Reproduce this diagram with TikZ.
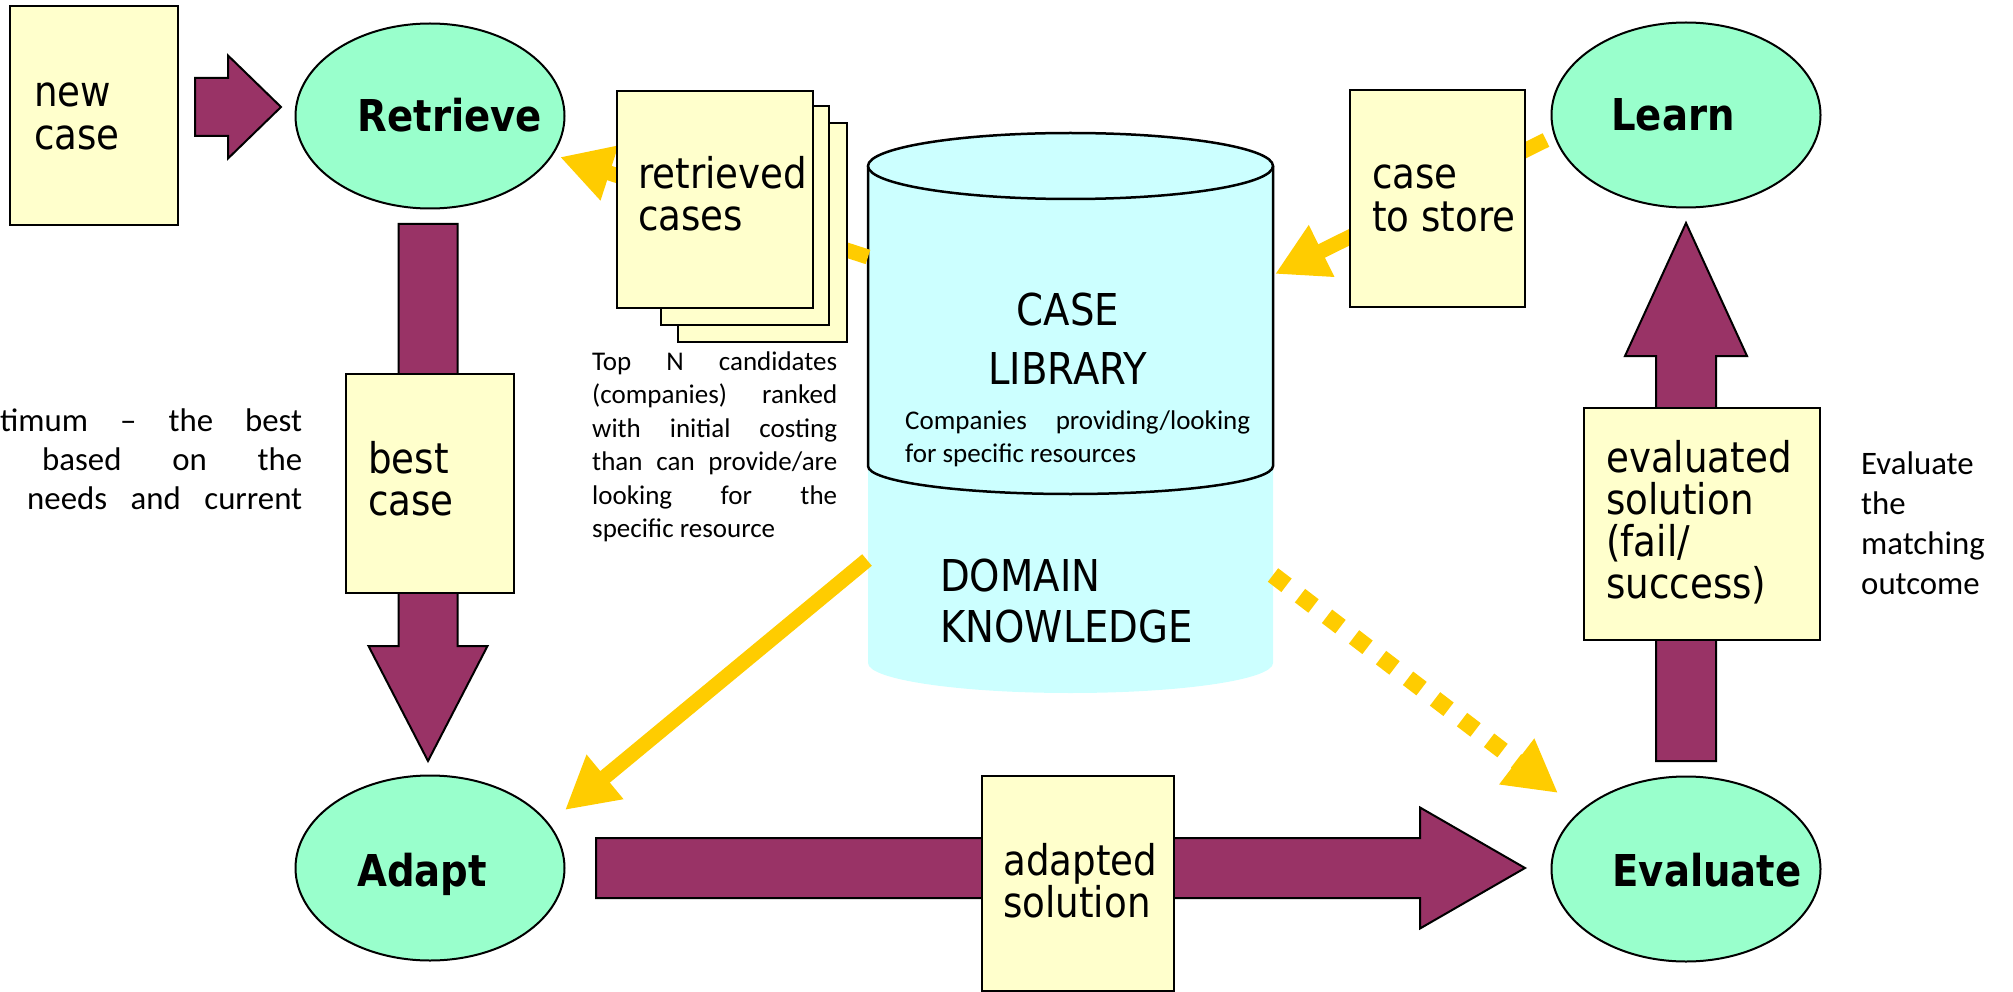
\documentclass[tikz,border=0pt]{standalone}
\usepackage{fontspec}
\setmainfont{DejaVu Sans}[FakeStretch=0.88]
\newfontfamily\notefont{Carlito}
\usetikzlibrary{calc,arrows.meta,shapes.geometric}

\definecolor{paperyellow}{HTML}{FFFFCC}
\definecolor{stagegreen}{HTML}{99FFCC}
\definecolor{libcyan}{HTML}{CCFFFF}
\definecolor{flowmaroon}{HTML}{993366}
\definecolor{linkgold}{HTML}{FFCC00}

% tail, tip, shaft half width, head half width, head length
\newcommand{\blockarrow}[5]{%
  \coordinate (bah) at ($(#2)!#5!(#1)$);
  \draw[blockarr] ($(#1)!#3!90:(#2)$) -- ($(bah)!#3!-90:(#1)$) -- ($(bah)!#4!-90:(#1)$)
    -- (#2) -- ($(bah)!#4!90:(#1)$) -- ($(bah)!#3!90:(#1)$) -- ($(#1)!#3!-90:(#2)$) -- cycle;
}

\tikzset{
  paper/.style={draw, line width=2.5pt, fill=paperyellow, anchor=north west, outer sep=0pt, inner sep=0pt},
  papertext/.style={anchor=base west, inner sep=0pt, font=\fontsize{42.3}{42.3}\selectfont},
  stage/.style={ellipse, draw, line width=2pt, fill=stagegreen, minimum width=269pt, minimum height=185pt, inner sep=0pt},
  stagename/.style={anchor=base, inner sep=0pt, font=\fontsize{43.9}{44}\selectfont\bfseries},
  note/.style={anchor=base west, inner sep=0pt, font=\notefont\fontsize{27}{33.4}\selectfont},
  bignote/.style={anchor=base west, inner sep=0pt, font=\notefont\fontsize{32.8}{40}\selectfont},
  blockarr/.style={draw=black, line width=2pt, fill=flowmaroon, line join=miter},
  feed/.style={draw=linkgold, line width=15pt, -{Triangle[length=52pt, width=54pt]}},
  feedhint/.style={feed, line width=17pt, dash pattern=on 17pt off 17pt},
}

\begin{document}
\begin{tikzpicture}[x=1pt, y=-1pt]
  \useasboundingbox (0,0) rectangle (2013,992);

  % case library and domain knowledge
  \fill[libcyan] (868,466) -- (868,663) arc[start angle=180, end angle=360, x radius=202.5pt, y radius=30pt] -- (1273,466) -- cycle;
  \filldraw[fill=libcyan, line width=2.5pt] (868,166) -- (868,466) arc[start angle=180, end angle=360, x radius=202.5pt, y radius=28pt] -- (1273,166);
  \filldraw[fill=libcyan, line width=2.5pt] (1070.5,166) ellipse[x radius=202.5pt, y radius=33pt];

  \node (caselib) [anchor=base, inner sep=0pt, font=\fontsize{43.9}{59}\selectfont] at (1068,325) {\parbox[t]{300pt}{\centering CASE\\LIBRARY}};
  \node (companies) [note] at (905,429) {\parbox[t]{345pt}{Companies providing/looking\linebreak for specific resources}};
  \node (domain) [anchor=base west, inner sep=0pt, font=\fontsize{43.9}{51}\selectfont] at (940,591) {\parbox[t]{300pt}{DOMAIN\\KNOWLEDGE}};

  % yellow links
  \coordinate (lib-w1) at (868,257);
  \coordinate (ret-in) at (560,157);
  \coordinate (lrn-out) at (1546,140);
  \coordinate (lib-e1) at (1275,274);
  \coordinate (lib-w2) at (867,560);
  \coordinate (adp-in) at (565,810);
  \coordinate (lib-e2) at (1273,575);
  \coordinate (eva-in) at (1558,793);
  \draw[feed] (lib-w1) -- (ret-in);
  \draw[feed] (lrn-out) -- (lib-e1);
  \draw[feed] (lib-w2) -- (adp-in);
  \draw[feedhint] (lib-e2) -- (eva-in);

  % the four steps
  \node (retrieve) [stage] at (430,116) {};
  \node (learn) [stage] at (1686,115) {};
  \node (adapt) [stage] at (430,868) {};
  \node (evaluate) [stage] at (1686,869) {};
  \node (retrieve-t) [stagename] at (450,132) {Retrieve};
  \node (learn-t) [stagename] at (1673,131) {Learn};
  \node (adapt-t) [stagename] at (422,886) {Adapt};
  \node (evaluate-t) [stagename] at (1707,886) {Evaluate};

  % maroon flow
  \coordinate (nc-tail) at (195,107);
  \coordinate (nc-tip) at (281,107);
  \coordinate (ra-tail) at (428,224);
  \coordinate (ra-tip) at (428,761);
  \coordinate (ae-tail) at (596,868);
  \coordinate (ae-tip) at (1525,868);
  \coordinate (el-tail) at (1686,761);
  \coordinate (el-tip) at (1686,223);
  \blockarrow{nc-tail}{nc-tip}{29pt}{51.5pt}{53pt}
  \blockarrow{ra-tail}{ra-tip}{29.5pt}{59.5pt}{115pt}
  \blockarrow{ae-tail}{ae-tip}{30pt}{60.5pt}{105pt}
  \blockarrow{el-tail}{el-tip}{30pt}{61pt}{133pt}

  % cases
  \node (newcase) [paper, minimum width=168pt, minimum height=219pt] at (10,6) {};
  \node (newcase-t) [papertext] at (34,107) {\parbox[t]{140pt}{new\\case}};
  \node (retr3) [paper, minimum width=169pt, minimum height=219pt] at (678,123) {};
  \node (retr2) [paper, minimum width=168pt, minimum height=219pt] at (661,106) {};
  \node (retrieved) [paper, minimum width=196pt, minimum height=217pt] at (617,91) {};
  \node (retrieved-t) [papertext] at (638,188.6) {\parbox[t]{175pt}{retrieved\\cases}};
  \node (bestcase) [paper, minimum width=168pt, minimum height=219pt] at (346,374) {};
  \node (bestcase-t) [papertext] at (368,473) {\parbox[t]{140pt}{best\\case}};
  \node (tostore) [paper, minimum width=175pt, minimum height=217pt] at (1350,90) {};
  \node (tostore-t) [papertext] at (1372,189) {\parbox[t]{150pt}{case\\to store}};
  \node (evalsol) [paper, minimum width=236pt, minimum height=232pt] at (1584,408) {};
  \node (evalsol-t) [papertext] at (1606,472) {\parbox[t]{200pt}{evaluated\\solution\\(fail/\\success)}};
  \node (adaptsol) [paper, minimum width=192pt, minimum height=215pt] at (982,776) {};
  \node (adaptsol-t) [papertext] at (1003,875) {\parbox[t]{170pt}{adapted\\solution}};

  % notes
  \node (topn) [note] at (592,370.5) {\parbox[t]{245pt}{Top N candidates\linebreak (companies) ranked\linebreak with initial costing\linebreak than can provide/are\linebreak looking for the\linebreak specific resource}};
  \node (evalnote) [bignote] at (1861,474.5) {\parbox[t]{140pt}{Evaluate\\the\\matching\\outcome}};
  \node (optimum) [bignote, font=\notefont\fontsize{32.8}{39}\selectfont] at (0,431.5) {\parbox[t]{302pt}{timum\hfill –\hfill the\hfill best\\
    \hspace*{42pt}based\hfill on\hfill the\\
    \hspace*{27pt}needs\hfill and\hfill current}};
\end{tikzpicture}
\end{document}
